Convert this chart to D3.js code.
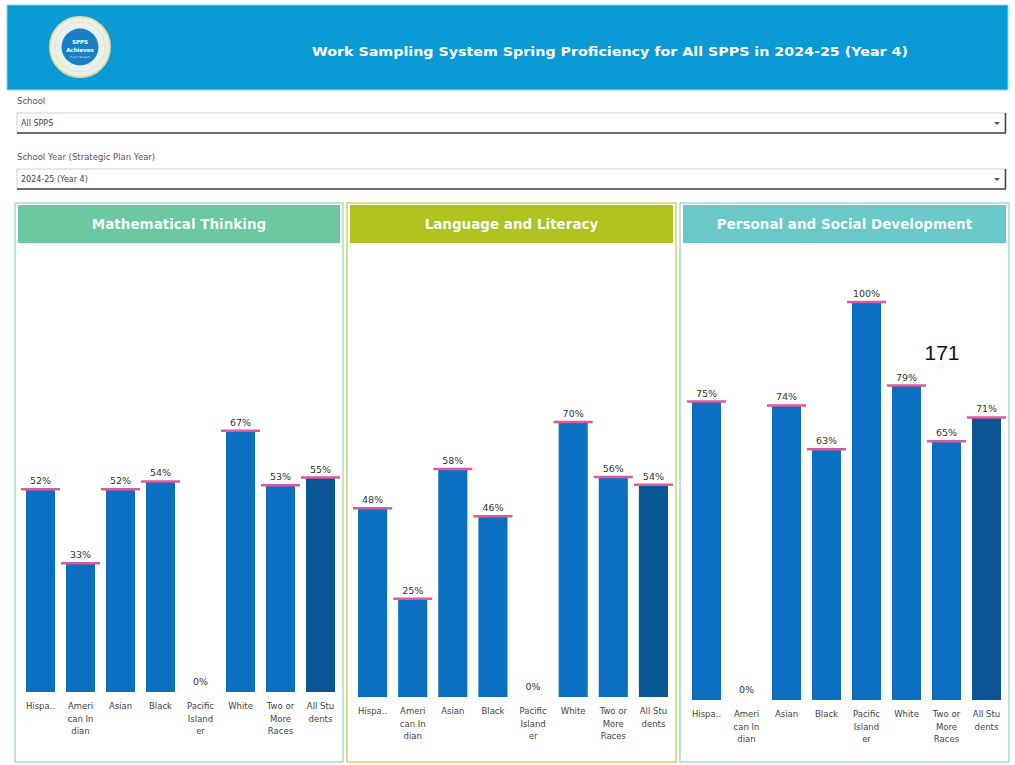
<!DOCTYPE html>
<html>
<head>
<meta charset="utf-8">
<script src="https://cdn.jsdelivr.net/npm/d3@7"></script>
<style>
  html, body { margin: 0; padding: 0; background: #ffffff; }
  svg { display: block; font-family: "DejaVu Sans", Verdana, sans-serif; }
</style>
</head>
<body>
<svg id="chart" width="1015" height="765"></svg>
<script>
// ---------------- DATA ----------------
const titleText = "Work Sampling System Spring Proficiency for All SPPS in 2024-25 (Year 4)";
const filterLabels = ["School", "School Year (Strategic Plan Year)"];
const filterValues = ["All SPPS", "2024-25 (Year 4)"];

const categories = ["Hispanic", "American Indian", "Asian", "Black", "Pacific Islander", "White", "Two or More Races", "All Students"];
const categoryLabelLines = [
  ["Hispa.."],
  ["Ameri", "can In", "dian"],
  ["Asian"],
  ["Black"],
  ["Pacific", "Island", "er"],
  ["White"],
  ["Two or", "More", "Races"],
  ["All Stu", "dents"]
];

const panelTitles = ["Mathematical Thinking", "Language and Literacy", "Personal and Social Development"];
const mathValues = [52, 33, 52, 54, 0, 67, 53, 55];
const literacyValues = [48, 25, 58, 46, 0, 70, 56, 54];
const socialValues = [75, 0, 74, 63, 100, 79, 65, 71];
const annotationText = "171";

// ---------------- STYLES / LAYOUT ----------------
const panels = [
  { title: panelTitles[0], values: mathValues, x0: 15, x1: 343, head: "#6cc8a0", border: "#a9dcc6", bandRange: [18, 343], yRange: [692, 302] },
  { title: panelTitles[1], values: literacyValues, x0: 347, x1: 676, head: "#afc21e", border: "#c9d66a", bandRange: [350, 676], yRange: [697, 304] },
  { title: panelTitles[2], values: socialValues, x0: 680, x1: 1009, head: "#6ac8c8", border: "#a6dada", bandRange: [684, 1009], yRange: [700, 302] }
];
const barColor = "#0b70c2";
const totalColor = "#0a5593";
const capColor = "#e0589b";

const svg = d3.select("#chart");

// ---------------- HEADER ----------------
svg.append("rect").attr("x", 7).attr("y", 5).attr("width", 1001).attr("height", 85)
  .attr("fill", "#0a9ad6").attr("stroke", "#8fd3ef").attr("stroke-width", 1);

// logo
const logo = svg.append("g").attr("transform", "translate(80,47)");
logo.append("circle").attr("r", 30).attr("fill", "#e6f1f5").attr("stroke", "#eadc9c").attr("stroke-width", 2);
logo.append("circle").attr("r", 25).attr("fill", "none").attr("stroke", "#f1e5ad").attr("stroke-width", 1.2);
logo.append("circle").attr("r", 18.5).attr("fill", "#1b7fc4");
logo.append("text").attr("y", -3).attr("text-anchor", "middle").attr("fill", "#fff")
  .attr("font-size", 5.5).attr("font-weight", "bold").text("SPPS");
logo.append("text").attr("y", 4.5).attr("text-anchor", "middle").attr("fill", "#fff")
  .attr("font-size", 5.5).attr("font-weight", "bold").text("Achieves");
logo.append("text").attr("y", 10.5).attr("text-anchor", "middle").attr("fill", "#cfe8f7")
  .attr("font-size", 2.8).text("Every Student");

svg.append("text").attr("x", 610).attr("y", 56).attr("text-anchor", "middle")
  .attr("fill", "#ffffff").attr("font-size", 12).attr("font-weight", "bold")
  .attr("textLength", 596).attr("lengthAdjust", "spacingAndGlyphs")
  .text(titleText);

// ---------------- FILTERS ----------------
const filterY = [101, 157];
filterLabels.forEach((lab, i) => {
  const y = filterY[i];
  svg.append("text").attr("x", 17).attr("y", y + 3).attr("font-size", 8.5).attr("fill", "#555").text(lab);
  const g = svg.append("g").attr("transform", `translate(17,${y + 12})`);
  g.append("rect").attr("width", 988).attr("height", 20).attr("fill", "#fff").attr("stroke", "#cfcfcf").attr("stroke-width", 1);
  g.append("line").attr("x1", 0).attr("x2", 989).attr("y1", 20).attr("y2", 20).attr("stroke", "#444").attr("stroke-width", 1.5);
  g.append("line").attr("x1", 988.5).attr("x2", 988.5).attr("y1", 0).attr("y2", 20).attr("stroke", "#444").attr("stroke-width", 1.5);
  g.append("text").attr("x", 4).attr("y", 13).attr("font-size", 8).attr("fill", "#444").text(filterValues[i]);
  g.append("path").attr("d", "M977,9 L983,9 L980,12 Z").attr("fill", "#555");
});

// ---------------- PANELS ----------------
panels.forEach(p => {
  const g = svg.append("g");
  g.append("rect").attr("x", p.x0).attr("y", 203).attr("width", p.x1 - p.x0).attr("height", 559)
    .attr("fill", "#fff").attr("stroke", p.border).attr("stroke-width", 1.5);
  g.append("rect").attr("x", p.x0 + 3).attr("y", 205).attr("width", p.x1 - p.x0 - 6).attr("height", 38)
    .attr("fill", p.head);
  g.append("text").attr("x", (p.x0 + p.x1) / 2).attr("y", 229).attr("text-anchor", "middle")
    .attr("fill", "#f4fbf8").attr("font-size", 13.5).attr("font-weight", "bold").text(p.title);

  const x = d3.scaleBand().domain(categories).range(p.bandRange).paddingInner(0.275).paddingOuter(0.2);
  const y = d3.scaleLinear().domain([0, 100]).range(p.yRange);
  const data = categories.map((c, i) => ({ c, v: p.values[i], i }));

  g.selectAll(".bar").data(data).enter().append("rect")
    .attr("x", d => x(d.c)).attr("width", x.bandwidth())
    .attr("y", d => y(d.v)).attr("height", d => y(0) - y(d.v))
    .attr("fill", d => d.c === "All Students" ? totalColor : barColor);

  g.selectAll(".cap").data(data.filter(d => d.v > 0)).enter().append("line")
    .attr("x1", d => x(d.c) - 5).attr("x2", d => x(d.c) + x.bandwidth() + 5)
    .attr("y1", d => y(d.v)).attr("y2", d => y(d.v))
    .attr("stroke", capColor).attr("stroke-width", 2.5);

  g.selectAll(".val").data(data).enter().append("text")
    .attr("x", d => x(d.c) + x.bandwidth() / 2)
    .attr("y", d => y(d.v) - (d.v > 0 ? 5 : 7))
    .attr("text-anchor", "middle").attr("font-size", 9.5).attr("fill", "#333")
    .text(d => d.v + "%");

  // category axis labels
  const lab = g.selectAll(".cat").data(data).enter().append("text")
    .attr("text-anchor", "middle").attr("font-size", 8.5).attr("fill", "#444");
  lab.each(function(d) {
    const t = d3.select(this);
    categoryLabelLines[d.i].forEach((line, k) => {
      t.append("tspan").attr("x", x(d.c) + x.bandwidth() / 2)
        .attr("y", y(0) + 17 + k * 12.5).text(line);
    });
  });
});

// stray annotation
svg.append("text").attr("x", 942).attr("y", 360).attr("text-anchor", "middle")
  .attr("font-size", 21).attr("fill", "#111").attr("font-family", "Liberation Sans, Arial, sans-serif")
  .text(annotationText);
</script>
</body>
</html>
